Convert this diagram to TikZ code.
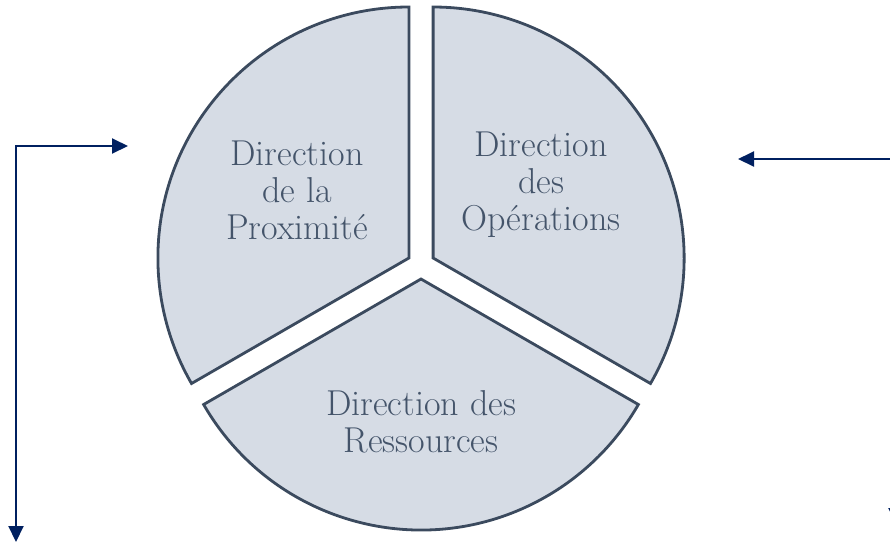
\documentclass[tikz,border=0pt]{standalone}
\usetikzlibrary{arrows.meta}
\definecolor{secfill}{HTML}{D6DCE5}
\definecolor{secdraw}{HTML}{3B4A5E}
\definecolor{sectext}{HTML}{44546A}
\definecolor{arrcol}{HTML}{002060}
\tikzset{
  sector/.style={fill=secfill, draw=secdraw, line width=2.8pt, line join=miter},
  seclabel/.style={text=sectext, align=center, font=\fontsize{36}{37}\selectfont, inner sep=0pt},
  flowboth/.style={draw=arrcol, line width=2pt, {Triangle[length=16pt,width=15pt]}-{Triangle[length=16pt,width=15pt]}}
}
\begin{document}
\begin{tikzpicture}[x=1pt,y=1pt]
\useasboundingbox (0,0) rectangle (890,-542);
\clip (0,0) rectangle (890,-542);
\def\R{251}
% sectors
\coordinate (apexL) at (408.9,-258);
\coordinate (apexR) at (433.1,-258);
\coordinate (apexB) at (421,-279);
\draw[sector] (apexL) -- ++(90:\R) arc[start angle=90, end angle=210, radius=\R] -- cycle;
\draw[sector] (apexR) -- ++(-30:\R) arc[start angle=-30, end angle=90, radius=\R] -- cycle;
\draw[sector] (apexB) -- ++(210:\R) arc[start angle=210, end angle=330, radius=\R] -- cycle;
% labels
\node[seclabel] (prox) at (297,-190) {Direction\\de la\\Proximité};
\node[seclabel] (oper) at (541,-185) {Direction\\des\\Opérations};
\node[seclabel] (ress) at (421,-422) {Direction des\\Ressources};
% connectors
\coordinate (lbot) at (16,-542);
\coordinate (lcorner) at (16,-146);
\coordinate (ltop) at (128,-146);
\draw[flowboth] (lbot) -- (lcorner) -- (ltop);
\coordinate (rtip) at (738,-159);
\coordinate (rcorner) at (896,-159);
\coordinate (rbot) at (896,-524);
\draw[flowboth] (rtip) -- (rcorner) -- (rbot);
\end{tikzpicture}
\end{document}
